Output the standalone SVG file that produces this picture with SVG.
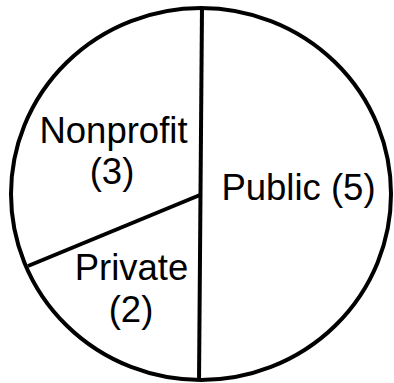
<svg xmlns="http://www.w3.org/2000/svg" width="394" height="383" viewBox="0 0 394 383">
<style>
.ln{fill:none;stroke:#000;stroke-width:4}
.t{font-family:"Liberation Sans",Arial,sans-serif;font-size:36.5px;fill:#000;text-anchor:middle}
</style>
<rect width="394" height="383" fill="#fff"/>
<g id="pie">
<ellipse class="ln" cx="201" cy="194" rx="190" ry="186"/>
</g>
<g id="connectors">
<line class="ln" x1="202" y1="7" x2="199" y2="381"/>
<line class="ln" x1="200" y1="195" x2="28" y2="266"/>
</g>
<g id="nonprofit">
<text class="t" x="113.5" y="143">Nonprofit</text>
<text class="t" x="112" y="184">(3)</text>
</g>
<g id="private">
<text class="t" x="131.5" y="280">Private</text>
<text class="t" x="131" y="322">(2)</text>
</g>
<g id="public">
<text class="t" x="298.5" y="200">Public (5)</text>
</g>
</svg>
